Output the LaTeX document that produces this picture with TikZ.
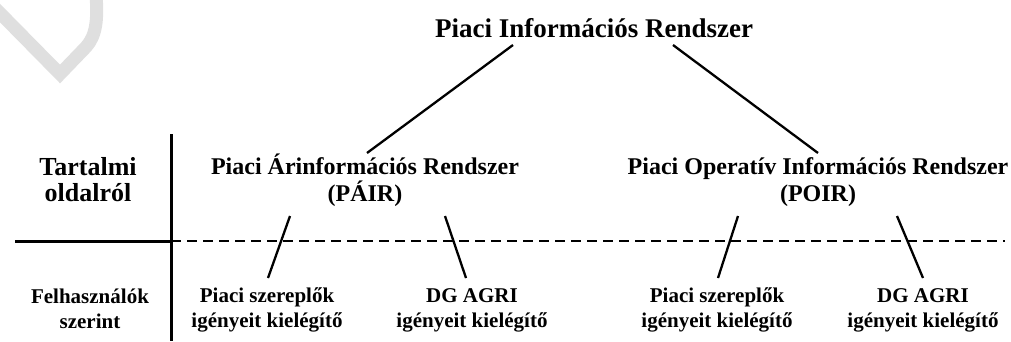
\documentclass[tikz,border=0pt]{standalone}
\usepackage{fontspec}
\setmainfont{Liberation Serif}
\usetikzlibrary{calc}

\begin{document}
\begin{tikzpicture}[
			x=1pt, y=-1pt,
			title/.style={inner sep=0pt, anchor=base, font=\bfseries\fontsize{27}{32}\selectfont},
			system/.style={
					inner sep=0pt, anchor=base, align=center,
					font=\bfseries\fontsize{24}{27}\selectfont
				},
			side/.style={inner sep=0pt, anchor=base, align=center, font=\bfseries\fontsize{26}{26}\selectfont},
			user/.style={inner sep=0pt, anchor=base, align=center, font=\bfseries\fontsize{21}{24.5}\selectfont},
			link/.style={line width=2.3pt},
			frame/.style={line width=3pt},
			split/.style={line width=1.3pt, dash pattern=on 10pt off 6pt},
			stamp/.style={line width=13pt, gray!25, line join=miter}
		]

		\useasboundingbox (0,0) rectangle (1011,341);

		% Watermark
		\draw[stamp] (-5,8) -- (60,74) -- (86,47) .. controls (96,36) and (98,20) .. (96,-5);

		% Row and column rules
		\coordinate (cross) at (171,241);
		\coordinate (rowleft) at (15,241);
		\coordinate (rowright) at (1005,241);
		\coordinate (coltop) at (171,134);
		\coordinate (colbottom) at (171,341);
		\draw[frame] (rowleft) -- (cross);
		\draw[frame] (coltop) -- (colbottom);
		\draw[split] (cross) -- (rowright);

		% Row labels (base = last line)
		\node[side] (content) at (88,201) {Tartalmi\\oldalról};
		\node[user] (users) at (90,328) {Felhasználók\\szerint};

		% Systems
		\node[title] (pir) at (594,37) {Piaci Információs Rendszer};
		\node[system] (pair) at (365,201) {Piaci Árinformációs Rendszer\\(PÁIR)};
		\node[system] (poir) at (818,201) {Piaci Operatív Információs Rendszer\\(POIR)};

		% Users
		\node[user] (pairmkt) at (267,327) {Piaci szereplők\\igényeit kielégítő};
		\node[user] (pairdg) at (472,327) {DG AGRI\\igényeit kielégítő};
		\node[user] (poirmkt) at (717,327) {Piaci szereplők\\igényeit kielégítő};
		\node[user] (poirdg) at (923,327) {DG AGRI\\igényeit kielégítő};

		% Tree links
		\draw[link] ($(pir.base)+(-81,8)$) -- ($(pair.base)+(2,-48)$);
		\draw[link] ($(pir.base)+(79,8)$) -- ($(poir.base)+(0,-48)$);
		\draw[link] ($(pair.base)+(-75,15)$) -- ($(pairmkt.base)+(1,-49)$);
		\draw[link] ($(pair.base)+(80,15)$) -- ($(pairdg.base)+(-6,-49)$);
		\draw[link] ($(poir.base)+(-80,15)$) -- ($(poirmkt.base)+(1,-49)$);
		\draw[link] ($(poir.base)+(79,15)$) -- ($(poirdg.base)+(0,-49)$);

	\end{tikzpicture}
\end{document}
